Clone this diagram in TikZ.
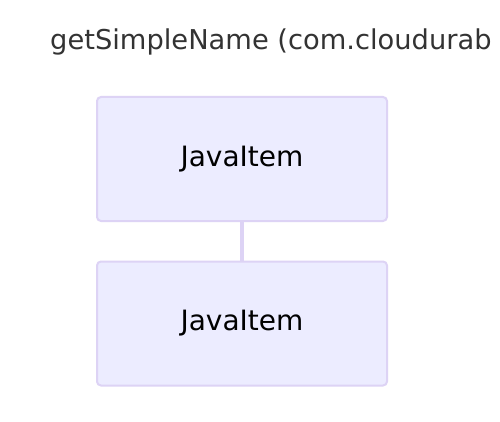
\documentclass[tikz,border=0pt]{standalone}
\usepackage{fontspec}
\setmainfont{DejaVu Sans}
\definecolor{boxfill}{HTML}{ECECFF}
\definecolor{boxline}{HTML}{DDD3F5}
\definecolor{titlecol}{HTML}{333333}
\begin{document}
\begin{tikzpicture}[x=1pt,y=-1pt,
  itembox/.style={draw=boxline,fill=boxfill,line width=2pt,rounded corners=4pt,
    minimum width=290pt,minimum height=124pt,inner sep=0pt,
    font=\fontsize{28}{33}\selectfont},
  link/.style={draw=boxline,line width=3.5pt}]
\useasboundingbox[fill=white] (0,0) rectangle (500,422);
\node[anchor=base west,text=titlecol,font=\fontsize{27.3}{32}\selectfont,inner sep=0pt] (title) at (50,50) {getSimpleName (com.cloudurab};
\node[itembox] (a) at (242,159) {JavaItem};
\node[itembox] (b) at (242,323.5) {JavaItem};
\draw[link] (a) -- (b);
\end{tikzpicture}
\end{document}
